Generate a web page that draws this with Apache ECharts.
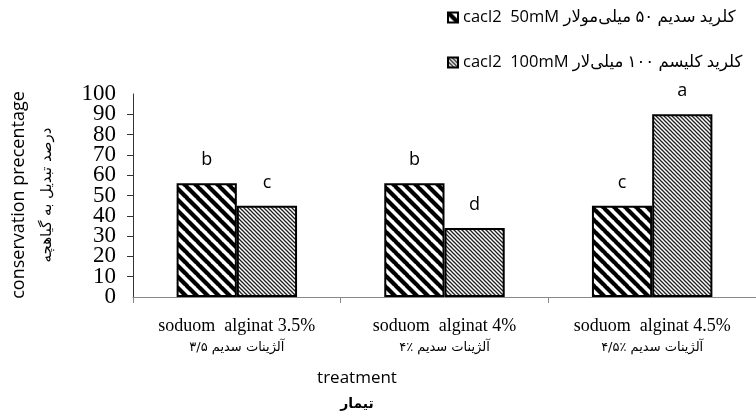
<!DOCTYPE html>
<html><head><meta charset="utf-8">
<script src="https://cdn.jsdelivr.net/npm/echarts@6/dist/echarts.min.js"></script>
<style>html,body{margin:0;padding:0;background:#fff}#c{width:756px;height:417px}</style>
</head><body><div id="c"></div>
<script>
const categories = ['soduom  alginat 3.5%', 'soduom  alginat 4%', 'soduom  alginat 4.5%'];
const categoriesFa = ['آلژینات سدیم ۳/۵', 'آلژینات سدیم ٪۴', 'آلژینات سدیم ٪۴/۵'];
const series50 = [56, 56, 45];
const series100 = [45, 34, 90];
const letters50 = ['b', 'b', 'c'];
const letters100 = ['c', 'd', 'a'];
const legendNames = ['cacl2  50mM کلرید سدیم ۵۰ میلی‌مولار', 'cacl2  100mM کلرید کلیسم ۱۰۰ میلی‌لار'];
const yTicks = [0, 100, 10];

function makePattern(size, lw, color) {
  const c = document.createElement('canvas');
  c.width = size; c.height = size;
  const g = c.getContext('2d');
  g.fillStyle = '#fff'; g.fillRect(0, 0, size, size);
  g.strokeStyle = color; g.lineWidth = lw;
  for (let k = -1; k <= 1; k++) {
    g.beginPath();
    g.moveTo(k * size - 1, -1);
    g.lineTo(k * size + size + 1, size + 1);
    g.stroke();
  }
  return c;
}
const pat1 = {image: makePattern(11, 4.2, '#000'), repeat: 'repeat'};
const pat2 = {image: makePattern(4, 1.3, '#222'), repeat: 'repeat'};

const chart = echarts.init(document.getElementById('c'));
const fa = '"DejaVu Sans", sans-serif';
const yLabelFont = {fontFamily: '"Liberation Serif", serif', fontSize: 23, color: '#000', margin: 17, hideOverlap: false};
chart.setOption({
  animation: false,
  grid: {left: 133, right: -5, top: 94, bottom: 120, containLabel: false},
  legend: {
    orient: 'vertical', left: 442, top: 4, itemGap: 28,
    itemWidth: 10, itemHeight: 10, icon: 'rect', selectedMode: false,
    textStyle: {fontFamily: '"Open Sans", ' + fa, fontSize: 16.5, color: '#000'},
    data: legendNames
  },
  xAxis: {
    type: 'category', data: categories,
    axisLine: {lineStyle: {color: '#888', width: 1}},
    axisTick: {show: true, length: 6, lineStyle: {color: '#888'}},
    axisLabel: {
      interval: 0, margin: 18, color: '#000',
      formatter: (v, i) => '{en|' + v + '}\n{fa|' + categoriesFa[i] + '}',
      rich: {
        en: {fontFamily: '"Liberation Serif", serif', fontSize: 18, lineHeight: 22, color: '#000'},
        fa: {fontFamily: fa, fontSize: 13, lineHeight: 22, color: '#000'}
      }
    }
  },
  yAxis: [
    {
      type: 'value', min: yTicks[0], max: yTicks[1], interval: yTicks[2], position: 'left',
      splitLine: {show: false},
      axisLine: {show: true, lineStyle: {color: '#333', width: 1}},
      axisTick: {show: true, length: 6, lineStyle: {color: '#333'}},
      axisLabel: Object.assign({showMinLabel: false, showMaxLabel: false}, yLabelFont)
    },
    {
      type: 'value', min: yTicks[0], max: yTicks[1], interval: yTicks[2], position: 'left', offset: 0,
      splitLine: {show: false}, axisLine: {show: false}, axisTick: {show: false},
      axisLabel: Object.assign({showMinLabel: true, showMaxLabel: true,
        formatter: v => (v === yTicks[0] || v === yTicks[1]) ? String(v) : ''}, yLabelFont)
    }
  ],
  series: [
    {
      name: legendNames[0], type: 'bar', data: series50, barGap: '0%', barCategoryGap: '42%',
      itemStyle: {color: pat1, borderColor: '#000', borderWidth: 2},
      label: {show: true, position: 'top', distance: 14, formatter: p => letters50[p.dataIndex],
        fontFamily: '"Open Sans", sans-serif', fontSize: 18, color: '#000'}
    },
    {
      name: legendNames[1], type: 'bar', data: series100,
      itemStyle: {color: pat2, borderColor: '#000', borderWidth: 2},
      label: {show: true, position: 'top', distance: 14, formatter: p => letters100[p.dataIndex],
        fontFamily: '"Open Sans", sans-serif', fontSize: 18, color: '#000'}
    }
  ],
  graphic: [
    {type: 'text', x: 19, y: 195, rotation: Math.PI / 2,
      style: {text: 'conservation precentage', font: '18px "Open Sans", sans-serif', fill: '#000', align: 'center', verticalAlign: 'middle'}},
    {type: 'text', x: 47, y: 195, rotation: Math.PI / 2,
      style: {text: 'درصد تبدیل به گیاهچه', font: '15px ' + fa, fill: '#000', align: 'center', verticalAlign: 'middle'}},
    {type: 'text', x: 357, y: 378,
      style: {text: 'treatment', font: '17px "Open Sans", sans-serif', fill: '#000', align: 'center', verticalAlign: 'middle'}},
    {type: 'text', x: 357, y: 404,
      style: {text: 'تیمار', font: 'bold 14px ' + fa, fill: '#000', align: 'center', verticalAlign: 'middle'}}
  ]
});
</script></body></html>
